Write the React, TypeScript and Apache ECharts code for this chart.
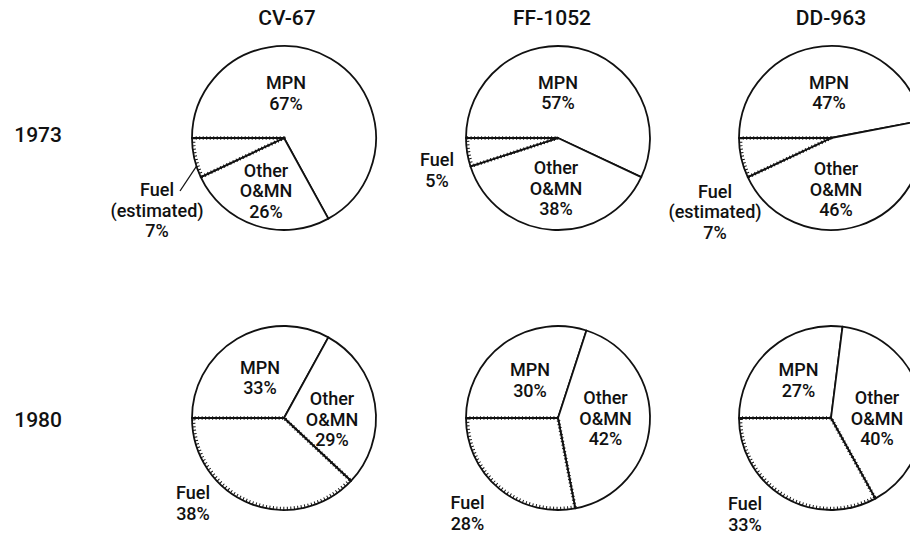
import React, { useEffect, useRef } from 'react';
import * as echarts from 'echarts';

// ---- data ----
const ships = ['CV-67', 'FF-1052', 'DD-963'];
const years = ['1973', '1980'];
const categories = ['MPN', 'Other\nO&MN', 'Fuel'];
const mpn1973 = [67, 57, 47];
const other1973 = [26, 38, 46];
const fuel1973 = [7, 5, 7];
const mpn1980 = [33, 30, 27];
const other1980 = [29, 42, 40];
const fuel1980 = [38, 28, 33];
const fuelEstimated1973 = [true, false, true];

// ---- layout ----
const colX = [284, 558, 831];
const rowY = [138, 418];
const R = 92;
const titleX = [287, 552, 831];
const titleY = 18;
const rowLabelRight = 62;
const rowLabelY = [135, 420];
// label centre offsets from pie centre: [MPN, Other, Fuel]
const labelOffsets = [
  [[2, -45], [-18, 52.5], [-127, 72]],
  [[0, -45.5], [-2, 50], [-121, 32]],
  [[-2, -45.5], [5, 51], [-116, 73.7]],
  [[-24, -40.5], [48, 1], [-91, 85]],
  [[-28, -38], [47.5, 0], [-90.5, 95]],
  [[-32.5, -38], [46, 0], [-86, 96]],
];

const FONT = "Roboto, 'Liberation Sans', Arial, sans-serif";
const INK = '#111111';

export default function App() {
  const ref = useRef<HTMLDivElement>(null);
  useEffect(() => {
    document.body.style.margin = '0';
    if (!ref.current) return;
    const chart = echarts.init(ref.current, null, { renderer: 'svg' });
    const series: any[] = [];
    const rows = [
      { mpn: mpn1973, other: other1973, fuel: fuel1973, est: fuelEstimated1973 },
      { mpn: mpn1980, other: other1980, fuel: fuel1980, est: [false, false, false] },
    ];
    rows.forEach((row, ri) => {
      ships.forEach((ship, ci) => {
        const k = ri * 3 + ci;
        const cx = colX[ci];
        const cy = rowY[ri];
        const values = [row.mpn[ci], row.other[ci], row.fuel[ci]];
        const names = categories.map((c, i) =>
          i === 2 && row.est[ci] ? 'Fuel\n(estimated)' : c
        );
        const data = values.map((v, i) => ({ name: names[i], value: v }));
        series.push({
          type: 'pie',
          name: ship + ' ' + years[ri],
          center: [cx, cy],
          radius: [0, R],
          startAngle: 180,
          clockwise: true,
          avoidLabelOverlap: false,
          itemStyle: { color: '#ffffff', borderColor: INK, borderWidth: 1.8 },
          label: {
            show: true,
            position: 'inside',
            formatter: '{b}\n{c}%',
            fontFamily: FONT,
            fontSize: 18,
            fontWeight: 500,
            lineHeight: 20.5,
            color: INK,
            align: 'center',
          },
          labelLine: { show: false },
          labelLayout: (p: any) => {
            const off = labelOffsets[k][p.dataIndex];
            return { x: cx + off[0], y: cy + off[1], align: 'center', verticalAlign: 'middle' };
          },
          emphasis: { disabled: true },
          data,
        });
        // stippled edge of fuel slice
        series.push({
          type: 'pie',
          name: ship + ' ' + years[ri] + ' fuel edge',
          center: [cx, cy],
          radius: [0, R - 1.5],
          startAngle: 180,
          clockwise: true,
          silent: true,
          z: 3,
          label: { show: false },
          labelLine: { show: false },
          emphasis: { disabled: true },
          data: values.map((v, i) => ({
            name: names[i],
            value: v,
            itemStyle:
              i === 2
                ? { color: 'transparent', borderColor: INK, borderWidth: 3.5, borderType: [1, 2.5] }
                : { color: 'transparent', borderWidth: 0 },
          })),
        });
      });
    });

    const graphics: any[] = [];
    ships.forEach((s, i) => {
      graphics.push({
        type: 'text',
        x: titleX[i],
        y: titleY,
        style: {
          text: s,
          fontFamily: FONT,
          fontSize: 21,
          fontWeight: 500,
          fill: INK,
          textAlign: 'center',
          textVerticalAlign: 'middle',
        },
      });
    });
    years.forEach((y, i) => {
      graphics.push({
        type: 'text',
        x: rowLabelRight,
        y: rowLabelY[i],
        style: {
          text: y,
          fontFamily: FONT,
          fontSize: 21,
          fontWeight: 500,
          fill: INK,
          textAlign: 'right',
          textVerticalAlign: 'middle',
        },
      });
    });
    // leader line for CV-67 1973 fuel label, pointing into the fuel slice
    const fuelFrac = fuel1973[0] / 100;
    const midAng = Math.PI + (fuelFrac * Math.PI * 2) / 2;
    const tipX = colX[0] + Math.cos(midAng) * R * 0.9;
    const tipY = rowY[0] - Math.sin(midAng) * R * 0.9;
    const startX = colX[0] + labelOffsets[0][2][0] + 23;
    const startY = rowY[0] + labelOffsets[0][2][1] - 19;
    graphics.push({
      type: 'line',
      shape: { x1: startX, y1: startY, x2: tipX, y2: tipY },
      style: { stroke: INK, lineWidth: 1.3 },
    });
    const ang = Math.atan2(tipY - startY, tipX - startX);
    const ah = 6;
    graphics.push({
      type: 'polyline',
      shape: {
        points: [
          [tipX - ah * Math.cos(ang - 0.45), tipY - ah * Math.sin(ang - 0.45)],
          [tipX, tipY],
          [tipX - ah * Math.cos(ang + 0.45), tipY - ah * Math.sin(ang + 0.45)],
        ],
      },
      style: { stroke: INK, lineWidth: 1.3, fill: 'none' },
    });

    chart.setOption({
      animation: false,
      backgroundColor: '#ffffff',
      series,
      graphic: graphics,
    });
    return () => chart.dispose();
  }, []);
  return <div ref={ref} style={{ width: 910, height: 539 }} />;
}
